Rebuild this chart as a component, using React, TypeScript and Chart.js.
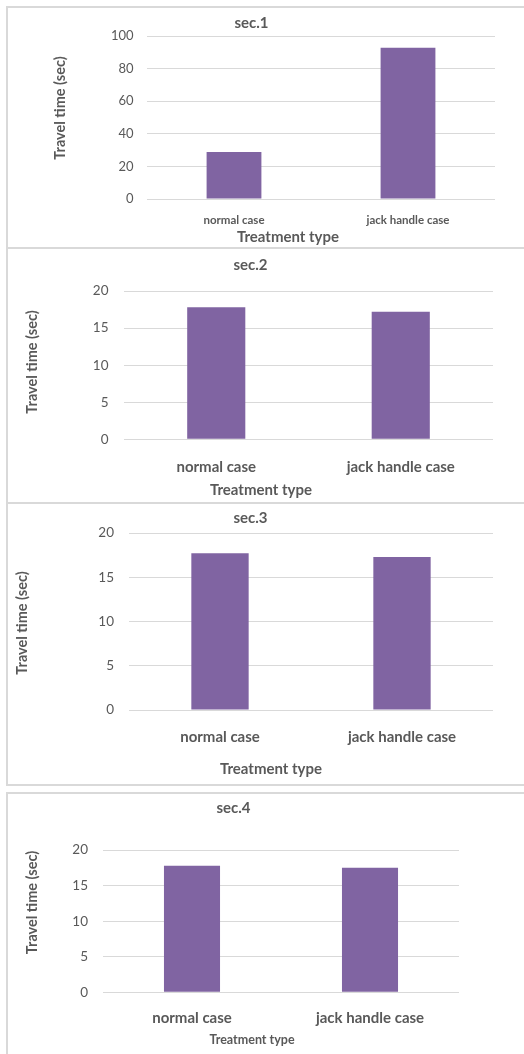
import React, { useEffect, useRef } from "react";
import { Chart, registerables } from "chart.js";

Chart.register(...registerables);

// ---- data ----
const categories = ["normal case", "jack handle case"];
const sec1Values = [28.8, 92.8];
const sec2Values = [17.8, 17.2];
const sec3Values = [17.7, 17.3];
const sec4Values = [17.8, 17.5];
const panelTitles = ["sec.1", "sec.2", "sec.3", "sec.4"];
const yAxisTitle = "Travel time (sec)";
const xAxisTitle = "Treatment type";
const sec1Ticks = [0, 20, 40, 60, 80, 100];
const otherTicks = [0, 5, 10, 15, 20];

const FONT = "Lato";
const TEXT = "#595959";
const GRID = "#d9d9d9";
const BAR = "#8064A2";

const axisTitlePlugin = {
  id: "axisTitles",
  afterDraw(chart: any, _args: any, opts: any) {
    const ctx = chart.ctx;
    for (const it of opts.items || []) {
      ctx.save();
      ctx.translate(it.x, it.y);
      if (it.rotate) ctx.rotate(it.rotate);
      ctx.font = `bold ${it.size}px ${FONT}`;
      ctx.fillStyle = TEXT;
      ctx.textAlign = "center";
      ctx.textBaseline = "middle";
      ctx.fillText(it.text, 0, 0);
      ctx.restore();
    }
  },
};

type Panel = {
  title: string;
  values: number[];
  ticks: number[];
  left: number;
  top: number;
  width: number;
  height: number;
  padRight: number;
  yWidth: number;
  xHeight: number;
  titleSize: number;
  titlePadTop: number;
  titlePadBottom: number;
  tickSize: number;
  tickPad: number;
  xLabelSize: number;
  xLabelPad: number;
  xTitle: { x: number; y: number; size: number };
  yTitle: { x: number; y: number; size: number };
};

const panels: Panel[] = [
  {
    title: panelTitles[0], values: sec1Values, ticks: sec1Ticks,
    left: 8, top: 8, width: 490, height: 238, padRight: 3, yWidth: 139, xHeight: 47,
    titleSize: 15, titlePadTop: 6, titlePadBottom: 4,
    tickSize: 13, tickPad: 13.4, xLabelSize: 11.5, xLabelPad: 14.1,
    xTitle: { x: 280, y: 229, size: 15 }, yTitle: { x: 52, y: 100, size: 14.5 },
  },
  {
    title: panelTitles[1], values: sec2Values, ticks: otherTicks,
    left: 8, top: 250, width: 530, height: 251, padRight: 45, yWidth: 116, xHeight: 61.7,
    titleSize: 15, titlePadTop: 6, titlePadBottom: 17,
    tickSize: 13.5, tickPad: 15.5, xLabelSize: 15, xLabelPad: 18.7,
    xTitle: { x: 253, y: 240, size: 15 }, yTitle: { x: 24, y: 112, size: 14.5 },
  },
  {
    title: panelTitles[2], values: sec3Values, ticks: otherTicks,
    left: 8, top: 505, width: 554, height: 279, padRight: 69, yWidth: 121, xHeight: 74,
    titleSize: 15, titlePadTop: 4, titlePadBottom: 6,
    tickSize: 13.5, tickPad: 15, xLabelSize: 15, xLabelPad: 18,
    xTitle: { x: 263, y: 264, size: 15 }, yTitle: { x: 14, y: 118, size: 14.5 },
  },
  {
    title: panelTitles[3], values: sec4Values, ticks: otherTicks,
    left: 8, top: 795, width: 504, height: 259, padRight: 53, yWidth: 95, xHeight: 61.7,
    titleSize: 15, titlePadTop: 4, titlePadBottom: 33,
    tickSize: 13.5, tickPad: 15, xLabelSize: 15, xLabelPad: 16.7,
    xTitle: { x: 244, y: 245, size: 12.5 }, yTitle: { x: 24, y: 107.5, size: 14.5 },
  },
];

const borders = [
  { left: 6, top: 6, height: 243 },
  { left: 6, top: 247, height: 257 },
  { left: 6, top: 502, height: 284 },
  { left: 6, top: 792, height: 300 },
];

function makeConfig(p: Panel): any {
  const max = p.ticks[p.ticks.length - 1];
  const step = p.ticks[1] - p.ticks[0];
  return {
    type: "bar",
    data: {
      labels: categories,
      datasets: [
        {
          label: p.title,
          data: p.values,
          backgroundColor: BAR,
          borderWidth: 0,
          barPercentage: 0.315,
          categoryPercentage: 1,
        },
      ],
    },
    plugins: [axisTitlePlugin],
    options: {
      responsive: false,
      animation: false,
      events: [],
      layout: { padding: { left: 0, right: p.padRight, top: 0, bottom: 0 } },
      plugins: {
        legend: { display: false },
        tooltip: { enabled: false },
        title: {
          display: true,
          text: p.title,
          color: TEXT,
          font: { family: FONT, size: p.titleSize, weight: "bold" },
          padding: { top: p.titlePadTop, bottom: p.titlePadBottom },
        },
        axisTitles: {
          items: [
            { text: xAxisTitle, x: p.xTitle.x, y: p.xTitle.y, size: p.xTitle.size },
            { text: yAxisTitle, x: p.yTitle.x, y: p.yTitle.y, size: p.yTitle.size, rotate: -Math.PI / 2 },
          ],
        },
      },
      scales: {
        x: {
          grid: { display: false, drawTicks: false },
          border: { display: false },
          ticks: {
            color: TEXT,
            padding: p.xLabelPad,
            maxRotation: 0,
            font: { family: FONT, size: p.xLabelSize, weight: "bold" },
          },
          afterFit: (s: any) => { s.height = p.xHeight; },
        },
        y: {
          min: 0,
          max,
          ticks: {
            stepSize: step,
            color: TEXT,
            padding: p.tickPad,
            font: { family: FONT, size: p.tickSize },
          },
          grid: { color: GRID, lineWidth: 1, drawTicks: false },
          border: { display: false },
          afterFit: (s: any) => { s.width = p.yWidth; },
        },
      },
    },
  };
}

export default function App() {
  const refs = useRef<(HTMLCanvasElement | null)[]>([]);
  useEffect(() => {
    const charts = panels.map((p, i) => new Chart(refs.current[i] as HTMLCanvasElement, makeConfig(p)));
    return () => charts.forEach((c) => c.destroy());
  }, []);
  return (
    <div
      style={{
        position: "absolute",
        left: 0,
        top: 0,
        width: 524,
        height: 1054,
        overflow: "hidden",
        background: "#ffffff",
      }}
    >
      {borders.map((b, i) => (
        <div
          key={"b" + i}
          style={{
            position: "absolute",
            left: b.left,
            top: b.top,
            width: 540,
            height: b.height,
            boxSizing: "border-box",
            border: "2px solid #d9d9d9",
          }}
        />
      ))}
      {panels.map((p, i) => (
        <canvas
          key={"c" + i}
          ref={(el) => { refs.current[i] = el; }}
          width={p.width}
          height={p.height}
          style={{ position: "absolute", left: p.left, top: p.top, width: p.width, height: p.height }}
        />
      ))}
    </div>
  );
}
